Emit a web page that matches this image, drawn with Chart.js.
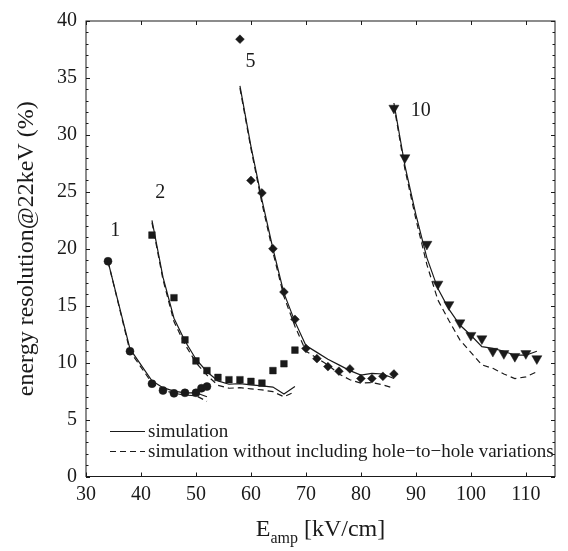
<!DOCTYPE html>
<html>
<head>
<meta charset="utf-8">
<script src="https://cdn.jsdelivr.net/npm/chart.js@4/dist/chart.umd.min.js"></script>
<style>
  html, body { margin: 0; padding: 0; background: #fff; }
  #wrap { width: 568px; height: 551px; }
</style>
</head>
<body>
<div id="wrap"><canvas id="c"></canvas></div>
<script>
'use strict';

const INK = '#1a1a1a';
const SERIF = '"Liberation Serif", "DejaVu Serif", serif';

// axis ticks
const xTicks = [30, 40, 50, 60, 70, 80, 90, 100, 110];
const yTicks = [0, 5, 10, 15, 20, 25, 30, 35, 40];

// measured points (markers)
const gap1X = [34, 38, 42, 44, 46, 48, 50, 51, 52];
const gap1Y = [18.9, 11.0, 8.15, 7.55, 7.3, 7.35, 7.35, 7.75, 7.9];
const gap2X = [42, 46, 48, 50, 52, 54, 56, 58, 60, 62, 64, 66, 68];
const gap2Y = [21.2, 15.7, 12.0, 10.15, 9.3, 8.7, 8.5, 8.5, 8.35, 8.2, 9.3, 9.9, 11.1];
const gap5X = [58, 60, 62, 64, 66, 68, 70, 72, 74, 76, 78, 80, 82, 84, 86];
const gap5Y = [38.4, 26.0, 24.9, 20.0, 16.2, 13.8, 11.25, 10.35, 9.65, 9.25, 9.45, 8.6, 8.6, 8.8, 9.0];
const gap10X = [86, 88, 92, 94, 96, 98, 100, 102, 104, 106, 108, 110, 112];
const gap10Y = [32.35, 28.0, 20.4, 16.9, 15.1, 13.5, 12.4, 12.1, 11.0, 10.8, 10.55, 10.8, 10.35];

// simulation (solid)
const sim1X = [34, 38, 42, 44, 46, 48, 50, 52];
const sim1Y = [18.9, 11.2, 8.4, 7.8, 7.5, 7.35, 7.35, 7.0];
const sim2X = [42, 44, 46, 48, 50, 52, 54, 56, 58, 60, 62, 64, 66, 68];
const sim2Y = [22.5, 17.5, 13.9, 11.9, 10.3, 9.2, 8.4, 8.1, 8.15, 8.05, 7.95, 7.85, 7.25, 7.9];
const sim5X = [58, 60, 62, 64, 66, 68, 70, 72, 74, 76, 78, 80, 82, 84, 86];
const sim5Y = [34.3, 29.0, 24.3, 20.0, 16.1, 13.6, 11.5, 10.9, 10.3, 9.8, 9.3, 8.9, 9.05, 9.0, 8.6];
const sim10X = [86, 88, 90, 92, 94, 96, 98, 100, 102, 104, 106, 108, 110, 112];
const sim10Y = [32.8, 27.3, 23.0, 19.2, 16.5, 14.7, 13.3, 12.4, 11.4, 11.25, 11.0, 10.65, 10.65, 11.0];

// simulation without hole-to-hole variations (dashed)
const flat1Y = [18.9, 11.0, 8.2, 7.6, 7.3, 7.15, 7.1, 6.6];
const flat2Y = [22.3, 17.3, 13.6, 11.6, 10.0, 8.9, 8.0, 7.75, 7.8, 7.7, 7.6, 7.45, 7.0, 7.45];
const flat5Y = [34.1, 28.8, 24.0, 19.7, 15.8, 13.2, 11.0, 10.4, 9.8, 9.0, 8.5, 8.2, 8.25, 8.05, 7.75];
const flat10Y = [32.6, 27.0, 22.6, 18.6, 15.5, 13.7, 12.0, 10.9, 9.8, 9.5, 9.0, 8.6, 8.75, 9.2];

// curve labels (hole count)
const curveNames = ['1', '2', '5', '10'];
const curveNameX = [35.3, 43.5, 59.9, 90.9];
const curveNameY = [21.6, 24.9, 36.4, 32.1];

const legendNames = ['simulation', 'simulation without including hole\u2212to\u2212hole variations'];

const pts = (xs, ys) => xs.map((x, i) => ({ x, y: ys[i] }));

function line(xs, ys, dashed) {
  return {
    data: pts(xs, ys),
    showLine: true,
    borderColor: INK,
    borderWidth: 1.2,
    borderDash: dashed ? [6, 4] : [],
    pointRadius: 0,
    tension: 0,
  };
}

function marks(xs, ys, style, radius, rotation) {
  return {
    data: pts(xs, ys),
    showLine: false,
    pointStyle: style,
    pointRadius: radius,
    pointRotation: rotation || 0,
    pointBackgroundColor: INK,
    pointBorderColor: INK,
    pointBorderWidth: 0.5,
  };
}

// frame, inward ticks, curve labels, legend, x title
const decorPlugin = {
  id: 'decor',
  afterDatasetsDraw(chart) {
    const { ctx, chartArea: a, scales: { x, y } } = chart;
    ctx.save();
    ctx.strokeStyle = INK;
    ctx.lineWidth = 1;
    ctx.strokeRect(a.left, a.top, a.right - a.left, a.bottom - a.top);

    ctx.beginPath();
    xTicks.forEach(v => {
      const px = Math.round(x.getPixelForValue(v)) + 0.5;
      ctx.moveTo(px, a.bottom); ctx.lineTo(px, a.bottom - 4);
      ctx.moveTo(px, a.top); ctx.lineTo(px, a.top + 4);
    });
    for (let v = yTicks[0]; v <= yTicks[yTicks.length - 1]; v++) {
      const py = Math.round(y.getPixelForValue(v)) + 0.5;
      const len = v % 5 === 0 ? 4 : 2.5;
      ctx.moveTo(a.left, py); ctx.lineTo(a.left + len, py);
      ctx.moveTo(a.right, py); ctx.lineTo(a.right - len, py);
    }
    ctx.stroke();

    // curve labels
    ctx.fillStyle = INK;
    ctx.font = '20px ' + SERIF;
    ctx.textAlign = 'center';
    ctx.textBaseline = 'middle';
    curveNames.forEach((t, i) => {
      ctx.fillText(t, x.getPixelForValue(curveNameX[i]), y.getPixelForValue(curveNameY[i]));
    });

    // legend
    ctx.font = '19px ' + SERIF;
    ctx.textAlign = 'left';
    legendNames.forEach((t, i) => {
      const ly = a.bottom - 45 + i * 20;
      ctx.beginPath();
      ctx.setLineDash(i === 0 ? [] : [6, 4]);
      ctx.lineWidth = 1.2;
      ctx.moveTo(a.left + 24, ly);
      ctx.lineTo(a.left + 59, ly);
      ctx.stroke();
      ctx.setLineDash([]);
      ctx.fillText(t, a.left + 62, ly + 1);
    });

    // x axis title with subscript
    const cx = (a.left + a.right) / 2;
    const base = 536;
    ctx.textBaseline = 'alphabetic';
    ctx.font = '24px ' + SERIF;
    const wE = ctx.measureText('E').width;
    const wRest = ctx.measureText(' [kV/cm]').width;
    ctx.font = '16px ' + SERIF;
    const wSub = ctx.measureText('amp').width;
    let sx = cx - (wE + wSub + wRest) / 2;
    ctx.font = '24px ' + SERIF;
    ctx.fillText('E', sx, base);
    ctx.font = '16px ' + SERIF;
    ctx.fillText('amp', sx + wE, base + 7);
    ctx.font = '24px ' + SERIF;
    ctx.fillText(' [kV/cm]', sx + wE + wSub, base);
    ctx.restore();
  },
};

new Chart(document.getElementById('c'), {
  type: 'scatter',
  data: {
    datasets: [
      line(sim1X, sim1Y, false), line(sim1X, flat1Y, true),
      line(sim2X, sim2Y, false), line(sim2X, flat2Y, true),
      line(sim5X, sim5Y, false), line(sim5X, flat5Y, true),
      line(sim10X, sim10Y, false), line(sim10X, flat10Y, true),
      marks(gap1X, gap1Y, 'circle', 4),
      marks(gap2X, gap2Y, 'rect', 4.7),
      marks(gap5X, gap5Y, 'rectRot', 4.4),
      marks(gap10X, gap10Y, 'triangle', 5.8, 180),
    ],
  },
  options: {
    responsive: true,
    maintainAspectRatio: false,
    animation: false,
    devicePixelRatio: 1,
    layout: { padding: { top: 13, right: 13, left: 0, bottom: 0 } },
    plugins: { legend: { display: false }, tooltip: { enabled: false } },
    scales: {
      x: {
        type: 'linear',
        min: 30,
        max: 115.3,
        afterBuildTicks: s => { s.ticks = xTicks.map(v => ({ value: v })); },
        afterFit: s => { s.height = 74.5; },
        grid: { display: false, drawTicks: false },
        border: { display: false },
        ticks: { color: INK, padding: 6, maxRotation: 0, font: { family: SERIF, size: 20 } },
      },
      y: {
        type: 'linear',
        min: 0,
        max: 40,
        afterBuildTicks: s => { s.ticks = yTicks.map(v => ({ value: v })); },
        afterFit: s => { s.width = 86; },
        grid: { display: false, drawTicks: false },
        border: { display: false },
        ticks: { color: INK, padding: 9, font: { family: SERIF, size: 20 } },
        title: {
          display: true,
          text: 'energy resolution@22keV (%)',
          color: INK,
          font: { family: SERIF, size: 24 },
          padding: { top: 12, bottom: 0 },
        },
      },
    },
  },
  plugins: [decorPlugin],
});
</script>
</body>
</html>
